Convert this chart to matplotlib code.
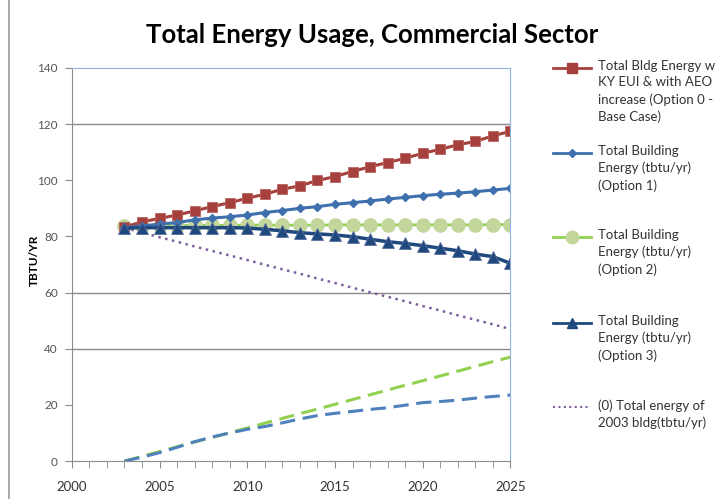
import matplotlib.pyplot as plt
from matplotlib.lines import Line2D

plt.rcParams['font.family'] = ['Lato', 'DejaVu Sans']

years = list(range(2003, 2026))

# Option 0 - base case (KY EUI + AEO increase)
opt0 = [83.3, 85.2, 86.4, 87.6, 89.1, 90.6, 92.0, 93.6, 95.0, 96.8, 98.0, 99.9,
        101.3, 103.1, 104.8, 106.3, 107.8, 109.6, 111.0, 112.6, 113.8, 115.8, 117.4]
opt1 = [83.1, 83.7, 84.4, 84.9, 85.9, 86.5, 87.0, 87.6, 88.5, 89.2, 90.0, 90.6,
        91.4, 92.0, 92.6, 93.3, 93.9, 94.5, 95.0, 95.4, 95.9, 96.5, 97.1]
opt2 = [83.6, 83.7, 83.8, 83.8, 83.9, 83.9, 83.9, 84.0, 84.0, 84.0, 84.0, 84.0,
        84.1, 84.1, 84.1, 84.1, 84.1, 84.1, 84.1, 84.1, 84.1, 84.2, 84.2]
opt3 = [82.9, 83.1, 83.1, 83.1, 83.1, 83.1, 83.1, 83.0, 82.5, 82.0, 81.3, 80.9,
        80.5, 79.9, 79.0, 78.1, 77.5, 76.7, 75.8, 74.9, 73.7, 72.8, 70.4]
bldg2003 = [83.0, 81.4, 79.7, 78.1, 76.4, 74.8, 73.2, 71.6, 69.9, 68.3, 66.7, 65.0,
            63.4, 61.7, 60.1, 58.5, 56.9, 55.2, 53.6, 51.9, 50.3, 48.7, 47.0]
# savings curves (no legend entry)
save2 = [0.0, 1.7, 3.4, 5.1, 6.8, 8.4, 10.1, 11.8, 13.5, 15.2, 16.9, 18.5,
         20.2, 21.9, 23.6, 25.3, 27.0, 28.6, 30.3, 32.0, 33.7, 35.4, 37.0]
save1 = [0.0, 1.4, 3.0, 4.9, 6.9, 8.6, 10.0, 11.3, 12.3, 13.6, 15.0, 16.2,
         17.0, 17.7, 18.4, 19.0, 19.9, 20.8, 21.2, 21.7, 22.4, 23.0, 23.5]

labels = [
    "Total Bldg Energy w\nKY EUI & with AEO\nincrease (Option 0 -\nBase Case)",
    "Total Building\nEnergy (tbtu/yr)\n(Option 1)",
    "Total Building\nEnergy (tbtu/yr)\n(Option 2)",
    "Total Building\nEnergy (tbtu/yr)\n(Option 3)",
    "(0) Total energy of\n2003 bldg(tbtu/yr)",
]

fig = plt.figure(figsize=(7.26, 4.99), dpi=100)
ax = fig.add_axes([0.099, 0.076, 0.604, 0.788])

ax.plot(years, save2, color='#92D050', lw=2.2, ls=(0, (5, 2.5)))
ax.plot(years, save1, color='#4F81BD', lw=2.2, ls=(0, (5, 2.5)))
ax.plot(years, bldg2003, color='#7F5FA0', lw=1.8, ls=(0, (1, 1.8)))
ax.plot(years, opt2, color='#92D050', lw=2, marker='o', ms=9.5,
        mfc='#C3D69B', mec='#C3D69B')
ax.plot(years, opt0, color='#A5403D', lw=2.2, marker='s', ms=7,
        mfc='#A5403D', mec='#B86360', mew=0.6)
ax.plot(years, opt1, color='#3F70AE', lw=2.2, marker='D', ms=4.5,
        mfc='#3F70AE', mec='#3F70AE')
ax.plot(years, opt3, color='#1F497D', lw=2.5, marker='^', ms=8,
        mfc='#1F497D', mec='#5B6FA0', mew=0.6)

ax.set_xlim(2000, 2025)
ax.set_ylim(0, 140)
ax.set_xticks(range(2000, 2026, 5))
ax.set_xticks(range(2000, 2026), minor=True)
ax.set_yticks(range(0, 141, 20))
for gy in [40, 60, 120]:
    ax.axhline(gy, color='#8C8C8C', lw=1, zorder=0)

ax.tick_params(axis='x', which='both', direction='out', length=5,
               color='#8C8C8C', labelsize=9.5, pad=9, labelcolor='#333333')
ax.tick_params(axis='y', direction='out', length=5, color='#8C8C8C',
               labelsize=8.5, labelcolor='#555555', pad=5)
ax.spines['top'].set_color('#8EB4E3')
ax.spines['right'].set_color('#8EB4E3')
ax.spines['left'].set_color('#8C8C8C')
ax.spines['bottom'].set_color('#8C8C8C')
ax.set_ylabel('TBTU/YR', fontsize=8.5, fontweight='bold')
ax.yaxis.set_label_coords(-0.072, 0.51)

fig.text(0.512, 0.929, 'Total Energy Usage, Commercial Sector', ha='center',
         va='center', fontsize=18.5, fontweight='bold')

# outer chart border on the left
fig.add_artist(Line2D([0.012, 0.012], [0, 1], color='#9A9A9A', lw=1.2))

# legend drawn by hand so each handle sits on the first text line
styles = [
    dict(color='#A5403D', lw=2, marker='s', ms=6.5, mfc='#A5403D', mec='#A5403D'),
    dict(color='#3F70AE', lw=2, marker='D', ms=4, mfc='#3F70AE', mec='#3F70AE'),
    dict(color='#92D050', lw=2, marker='o', ms=9, mfc='#C3D69B', mec='#C3D69B'),
    dict(color='#1F497D', lw=2, marker='^', ms=7.5, mfc='#1F497D', mec='#1F497D'),
    dict(color='#7F5FA0', lw=1.5, ls=(0, (1, 1.6))),
]
entry_y = [68, 153, 237, 323, 407]
W, H = 726, 499
for lab, st, py in zip(labels, styles, entry_y):
    yf = 1 - py / H
    fig.add_artist(Line2D([553 / W, 572 / W, 591 / W], [yf, yf, yf],
                          markevery=[1], **st))
    fig.text(598 / W, yf + 8 / H, lab, ha='left', va='top', fontsize=9.5,
             color='#333333', linespacing=1.45)

fig.savefig('out.png', dpi=100)
